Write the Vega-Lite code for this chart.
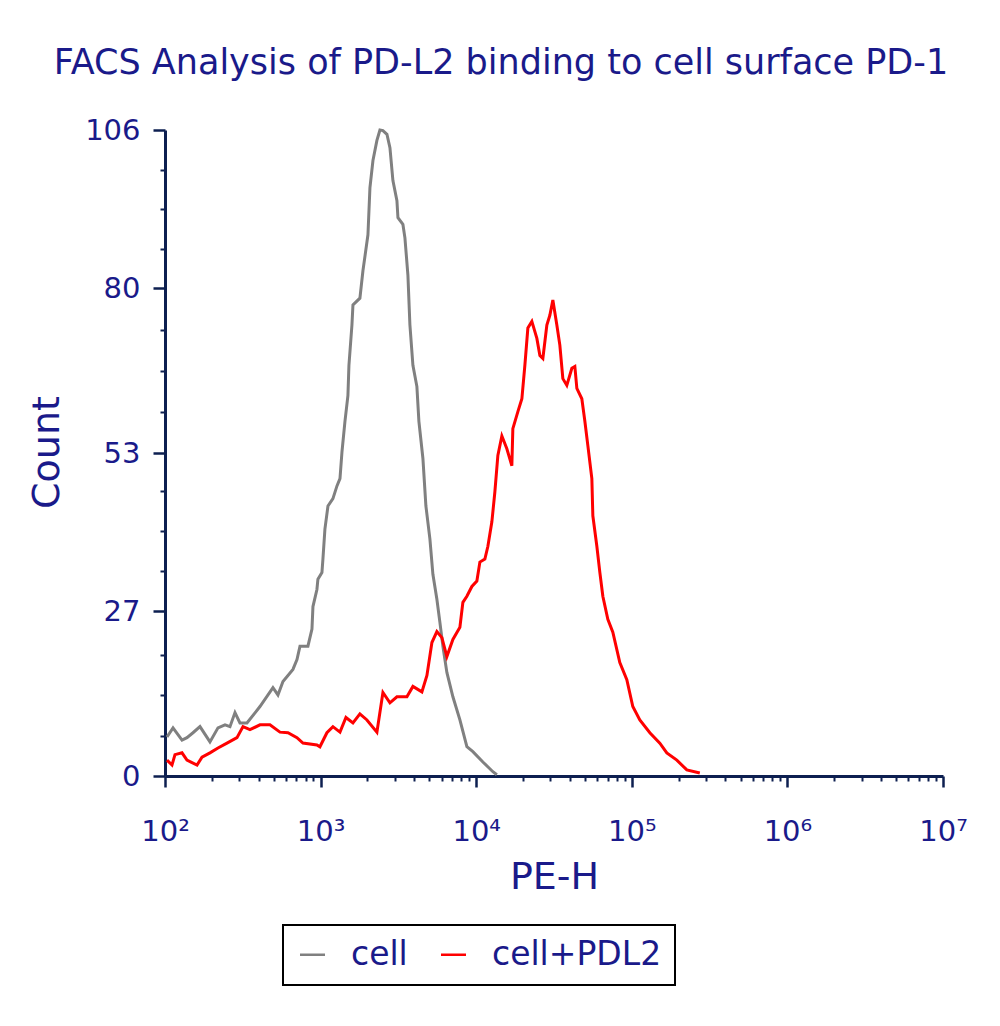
{
  "$schema": "https://vega.github.io/schema/vega-lite/v6.json",
  "width": 778,
  "height": 646,
  "autosize": {"type": "none"},
  "padding": {"left": 165, "top": 130, "right": 57, "bottom": 250},
  "background": "white",
  "title": {
    "text": "FACS Analysis of PD-L2 binding to cell surface PD-1",
    "font": "DejaVu Sans",
    "fontSize": 35,
    "fontWeight": "normal",
    "color": "#1a1a8a",
    "anchor": "middle",
    "frame": "group",
    "dx": -53,
    "baseline": "alphabetic",
    "offset": 7
  },
  "data": {
    "values": [
      {"sample": "cell", "PE_H": 103, "Count": 6.4},
      {"sample": "cell", "PE_H": 112.6, "Count": 7.9},
      {"sample": "cell", "PE_H": 128.6, "Count": 5.9},
      {"sample": "cell", "PE_H": 138.4, "Count": 6.3},
      {"sample": "cell", "PE_H": 151.3, "Count": 7.1},
      {"sample": "cell", "PE_H": 167.8, "Count": 8.1},
      {"sample": "cell", "PE_H": 194.5, "Count": 5.6},
      {"sample": "cell", "PE_H": 219, "Count": 7.9},
      {"sample": "cell", "PE_H": 243, "Count": 8.4},
      {"sample": "cell", "PE_H": 261.6, "Count": 8.1},
      {"sample": "cell", "PE_H": 281.7, "Count": 10.4},
      {"sample": "cell", "PE_H": 303.2, "Count": 8.7},
      {"sample": "cell", "PE_H": 336.3, "Count": 8.7},
      {"sample": "cell", "PE_H": 407.7, "Count": 11.4},
      {"sample": "cell", "PE_H": 494, "Count": 14.5},
      {"sample": "cell", "PE_H": 532, "Count": 13.3},
      {"sample": "cell", "PE_H": 573, "Count": 15.5},
      {"sample": "cell", "PE_H": 664, "Count": 17.5},
      {"sample": "cell", "PE_H": 705, "Count": 19.1},
      {"sample": "cell", "PE_H": 737, "Count": 21.3},
      {"sample": "cell", "PE_H": 829, "Count": 21.3},
      {"sample": "cell", "PE_H": 880, "Count": 24.1},
      {"sample": "cell", "PE_H": 893, "Count": 27.8},
      {"sample": "cell", "PE_H": 947, "Count": 30.6},
      {"sample": "cell", "PE_H": 961, "Count": 32.3},
      {"sample": "cell", "PE_H": 1020, "Count": 33.4},
      {"sample": "cell", "PE_H": 1035, "Count": 35.6},
      {"sample": "cell", "PE_H": 1066, "Count": 40.5},
      {"sample": "cell", "PE_H": 1115, "Count": 44.3},
      {"sample": "cell", "PE_H": 1200, "Count": 45.5},
      {"sample": "cell", "PE_H": 1274, "Count": 47.6},
      {"sample": "cell", "PE_H": 1332, "Count": 48.8},
      {"sample": "cell", "PE_H": 1372, "Count": 53.2},
      {"sample": "cell", "PE_H": 1434, "Count": 58.2},
      {"sample": "cell", "PE_H": 1498, "Count": 62.4},
      {"sample": "cell", "PE_H": 1521, "Count": 67.4},
      {"sample": "cell", "PE_H": 1590, "Count": 74.0},
      {"sample": "cell", "PE_H": 1614, "Count": 77.3},
      {"sample": "cell", "PE_H": 1789, "Count": 78.4},
      {"sample": "cell", "PE_H": 1871, "Count": 82.9},
      {"sample": "cell", "PE_H": 2015, "Count": 88.8},
      {"sample": "cell", "PE_H": 2075, "Count": 96.5},
      {"sample": "cell", "PE_H": 2170, "Count": 101.0},
      {"sample": "cell", "PE_H": 2301, "Count": 104.3},
      {"sample": "cell", "PE_H": 2406, "Count": 106},
      {"sample": "cell", "PE_H": 2515, "Count": 105.9},
      {"sample": "cell", "PE_H": 2669, "Count": 105.3},
      {"sample": "cell", "PE_H": 2790, "Count": 103.1},
      {"sample": "cell", "PE_H": 2916, "Count": 97.7},
      {"sample": "cell", "PE_H": 3094, "Count": 94.4},
      {"sample": "cell", "PE_H": 3141, "Count": 91.6},
      {"sample": "cell", "PE_H": 3381, "Count": 90.5},
      {"sample": "cell", "PE_H": 3483, "Count": 88.3},
      {"sample": "cell", "PE_H": 3640, "Count": 82.2},
      {"sample": "cell", "PE_H": 3750, "Count": 74.0},
      {"sample": "cell", "PE_H": 3920, "Count": 67.4},
      {"sample": "cell", "PE_H": 4158, "Count": 63.9},
      {"sample": "cell", "PE_H": 4283, "Count": 58.2},
      {"sample": "cell", "PE_H": 4545, "Count": 52.1},
      {"sample": "cell", "PE_H": 4751, "Count": 44.3},
      {"sample": "cell", "PE_H": 5040, "Count": 38.9},
      {"sample": "cell", "PE_H": 5269, "Count": 33.1},
      {"sample": "cell", "PE_H": 5589, "Count": 29.0},
      {"sample": "cell", "PE_H": 5844, "Count": 25.2},
      {"sample": "cell", "PE_H": 6109, "Count": 21.3},
      {"sample": "cell", "PE_H": 6479, "Count": 17.0},
      {"sample": "cell", "PE_H": 7083, "Count": 13.0},
      {"sample": "cell", "PE_H": 7857, "Count": 9.2},
      {"sample": "cell", "PE_H": 8712, "Count": 4.8},
      {"sample": "cell", "PE_H": 9521, "Count": 4.0},
      {"sample": "cell", "PE_H": 11040, "Count": 2.3},
      {"sample": "cell", "PE_H": 12800, "Count": 0.7},
      {"sample": "cell", "PE_H": 13580, "Count": 0.2},
      {"sample": "cell+PDL2", "PE_H": 103, "Count": 2.6},
      {"sample": "cell+PDL2", "PE_H": 110.9, "Count": 1.8},
      {"sample": "cell+PDL2", "PE_H": 115.9, "Count": 3.5},
      {"sample": "cell+PDL2", "PE_H": 128.6, "Count": 3.8},
      {"sample": "cell+PDL2", "PE_H": 138.4, "Count": 2.6},
      {"sample": "cell+PDL2", "PE_H": 160.6, "Count": 1.8},
      {"sample": "cell+PDL2", "PE_H": 172.9, "Count": 3.1},
      {"sample": "cell+PDL2", "PE_H": 194.5, "Count": 3.8},
      {"sample": "cell+PDL2", "PE_H": 219, "Count": 4.6},
      {"sample": "cell+PDL2", "PE_H": 250.2, "Count": 5.4},
      {"sample": "cell+PDL2", "PE_H": 290.1, "Count": 6.3},
      {"sample": "cell+PDL2", "PE_H": 317.1, "Count": 8.1},
      {"sample": "cell+PDL2", "PE_H": 351.6, "Count": 7.6},
      {"sample": "cell+PDL2", "PE_H": 407.7, "Count": 8.4},
      {"sample": "cell+PDL2", "PE_H": 472.6, "Count": 8.4},
      {"sample": "cell+PDL2", "PE_H": 548.1, "Count": 7.2},
      {"sample": "cell+PDL2", "PE_H": 617, "Count": 7.1},
      {"sample": "cell+PDL2", "PE_H": 705, "Count": 6.3},
      {"sample": "cell+PDL2", "PE_H": 770.2, "Count": 5.4},
      {"sample": "cell+PDL2", "PE_H": 947, "Count": 5.1},
      {"sample": "cell+PDL2", "PE_H": 990, "Count": 4.8},
      {"sample": "cell+PDL2", "PE_H": 1098, "Count": 7.1},
      {"sample": "cell+PDL2", "PE_H": 1200, "Count": 8.1},
      {"sample": "cell+PDL2", "PE_H": 1332, "Count": 7.2},
      {"sample": "cell+PDL2", "PE_H": 1455, "Count": 9.6},
      {"sample": "cell+PDL2", "PE_H": 1614, "Count": 8.7},
      {"sample": "cell+PDL2", "PE_H": 1789, "Count": 10.2},
      {"sample": "cell+PDL2", "PE_H": 1985, "Count": 9.2},
      {"sample": "cell+PDL2", "PE_H": 2301, "Count": 7.2},
      {"sample": "cell+PDL2", "PE_H": 2515, "Count": 13.7},
      {"sample": "cell+PDL2", "PE_H": 2790, "Count": 12.0},
      {"sample": "cell+PDL2", "PE_H": 3094, "Count": 13.0},
      {"sample": "cell+PDL2", "PE_H": 3587, "Count": 13.0},
      {"sample": "cell+PDL2", "PE_H": 3920, "Count": 14.7},
      {"sample": "cell+PDL2", "PE_H": 4477, "Count": 13.8},
      {"sample": "cell+PDL2", "PE_H": 4823, "Count": 16.5},
      {"sample": "cell+PDL2", "PE_H": 5192, "Count": 21.9},
      {"sample": "cell+PDL2", "PE_H": 5589, "Count": 23.7},
      {"sample": "cell+PDL2", "PE_H": 6019, "Count": 22.7},
      {"sample": "cell+PDL2", "PE_H": 6479, "Count": 19.6},
      {"sample": "cell+PDL2", "PE_H": 7083, "Count": 22.4},
      {"sample": "cell+PDL2", "PE_H": 7857, "Count": 24.4},
      {"sample": "cell+PDL2", "PE_H": 8212, "Count": 28.5},
      {"sample": "cell+PDL2", "PE_H": 8712, "Count": 29.5},
      {"sample": "cell+PDL2", "PE_H": 9382, "Count": 31.1},
      {"sample": "cell+PDL2", "PE_H": 10100, "Count": 32.0},
      {"sample": "cell+PDL2", "PE_H": 10560, "Count": 35.1},
      {"sample": "cell+PDL2", "PE_H": 11370, "Count": 35.6},
      {"sample": "cell+PDL2", "PE_H": 11890, "Count": 37.7},
      {"sample": "cell+PDL2", "PE_H": 12610, "Count": 41.7},
      {"sample": "cell+PDL2", "PE_H": 13180, "Count": 46.6},
      {"sample": "cell+PDL2", "PE_H": 13780, "Count": 52.6},
      {"sample": "cell+PDL2", "PE_H": 14620, "Count": 55.8},
      {"sample": "cell+PDL2", "PE_H": 15740, "Count": 53.7},
      {"sample": "cell+PDL2", "PE_H": 16950, "Count": 50.9},
      {"sample": "cell+PDL2", "PE_H": 17200, "Count": 57.0},
      {"sample": "cell+PDL2", "PE_H": 18530, "Count": 59.8},
      {"sample": "cell+PDL2", "PE_H": 19660, "Count": 61.9},
      {"sample": "cell+PDL2", "PE_H": 20550, "Count": 67.4},
      {"sample": "cell+PDL2", "PE_H": 21480, "Count": 73.5},
      {"sample": "cell+PDL2", "PE_H": 22790, "Count": 74.6},
      {"sample": "cell+PDL2", "PE_H": 24540, "Count": 71.8},
      {"sample": "cell+PDL2", "PE_H": 25660, "Count": 69.0},
      {"sample": "cell+PDL2", "PE_H": 26820, "Count": 68.5},
      {"sample": "cell+PDL2", "PE_H": 28450, "Count": 74.0},
      {"sample": "cell+PDL2", "PE_H": 29740, "Count": 75.6},
      {"sample": "cell+PDL2", "PE_H": 31090, "Count": 78.1},
      {"sample": "cell+PDL2", "PE_H": 32980, "Count": 74.0},
      {"sample": "cell+PDL2", "PE_H": 34480, "Count": 70.7},
      {"sample": "cell+PDL2", "PE_H": 36050, "Count": 65.2},
      {"sample": "cell+PDL2", "PE_H": 38230, "Count": 64.1},
      {"sample": "cell+PDL2", "PE_H": 41180, "Count": 66.9},
      {"sample": "cell+PDL2", "PE_H": 43050, "Count": 67.2},
      {"sample": "cell+PDL2", "PE_H": 44350, "Count": 63.6},
      {"sample": "cell+PDL2", "PE_H": 47740, "Count": 61.9},
      {"sample": "cell+PDL2", "PE_H": 49930, "Count": 58.2},
      {"sample": "cell+PDL2", "PE_H": 52190, "Count": 54.2},
      {"sample": "cell+PDL2", "PE_H": 55370, "Count": 48.8},
      {"sample": "cell+PDL2", "PE_H": 56190, "Count": 42.7},
      {"sample": "cell+PDL2", "PE_H": 59620, "Count": 37.7},
      {"sample": "cell+PDL2", "PE_H": 62320, "Count": 33.4},
      {"sample": "cell+PDL2", "PE_H": 65150, "Count": 29.5},
      {"sample": "cell+PDL2", "PE_H": 70150, "Count": 25.7},
      {"sample": "cell+PDL2", "PE_H": 75530, "Count": 23.6},
      {"sample": "cell+PDL2", "PE_H": 83750, "Count": 18.6},
      {"sample": "cell+PDL2", "PE_H": 92900, "Count": 15.8},
      {"sample": "cell+PDL2", "PE_H": 101500, "Count": 11.4},
      {"sample": "cell+PDL2", "PE_H": 112600, "Count": 9.2},
      {"sample": "cell+PDL2", "PE_H": 130600, "Count": 7.1},
      {"sample": "cell+PDL2", "PE_H": 151400, "Count": 5.4},
      {"sample": "cell+PDL2", "PE_H": 167900, "Count": 3.8},
      {"sample": "cell+PDL2", "PE_H": 194700, "Count": 2.6},
      {"sample": "cell+PDL2", "PE_H": 225700, "Count": 1.0},
      {"sample": "cell+PDL2", "PE_H": 273500, "Count": 0.5}
    ]
  },
  "layer": [
    {
      "mark": {"type": "line", "opacity": 0},
      "encoding": {
        "x": {
          "field": "PE_H",
          "type": "quantitative",
          "scale": {"type": "log", "domain": [100, 10000000]},
          "axis": {
            "orient": "bottom",
            "values": [200, 300, 400, 500, 600, 700, 800, 900, 2000, 3000, 4000, 5000, 6000, 7000, 8000, 9000, 20000, 30000, 40000, 50000, 60000, 70000, 80000, 90000, 200000, 300000, 400000, 500000, 600000, 700000, 800000, 900000, 2000000, 3000000, 4000000, 5000000, 6000000, 7000000, 8000000, 9000000],
            "labels": false,
            "domain": false,
            "grid": false,
            "title": null,
            "tickSize": 5,
            "tickWidth": 2,
            "tickColor": "#0d1f50"
          }
        },
        "y": {
          "field": "Count",
          "type": "quantitative",
          "scale": {"domain": [0, 106], "nice": false, "zero": true},
          "axis": {
            "orient": "left",
            "values": [6.6, 13.3, 19.9, 33.6, 40.2, 46.8, 59.7, 66.5, 73.2, 86.5, 93, 99.5],
            "labels": false,
            "domain": false,
            "grid": false,
            "title": null,
            "tickSize": 5,
            "tickWidth": 2,
            "tickColor": "#0d1f50"
          }
        },
        "detail": {"field": "sample"}
      }
    },
    {
      "mark": {"type": "line", "strokeWidth": 3},
      "encoding": {
        "x": {
          "field": "PE_H",
          "type": "quantitative",
          "scale": {"type": "log", "domain": [100, 10000000]},
          "axis": {
            "orient": "bottom",
            "values": [100, 1000, 10000, 100000, 1000000, 10000000],
            "labelExpr": "datum.value == 100 ? '10²' : datum.value == 1000 ? '10³' : datum.value == 10000 ? '10⁴' : datum.value == 100000 ? '10⁵' : datum.value == 1000000 ? '10⁶' : '10⁷'",
            "grid": false,
            "domainColor": "#0d1f50",
            "domainWidth": 3,
            "tickColor": "#0d1f50",
            "tickWidth": 2.5,
            "tickSize": 11,
            "labelFont": "DejaVu Sans",
            "labelFontSize": 29,
            "labelColor": "#1a1a8a",
            "labelPadding": 30,
            "labelFlush": false,
            "labelOverlap": false,
            "title": "PE-H",
            "titleFont": "DejaVu Sans",
            "titleFontSize": 38,
            "titleFontWeight": "normal",
            "titleColor": "#1a1a8a",
            "titleBaseline": "alphabetic",
            "titleY": 112
          }
        },
        "y": {
          "field": "Count",
          "type": "quantitative",
          "scale": {"domain": [0, 106], "nice": false, "zero": true},
          "axis": {
            "orient": "left",
            "values": [0, 27, 53, 80, 106],
            "grid": false,
            "domainColor": "#0d1f50",
            "domainWidth": 3,
            "tickColor": "#0d1f50",
            "tickWidth": 2.5,
            "tickSize": 12,
            "labelFont": "DejaVu Sans",
            "labelFontSize": 29,
            "labelColor": "#1a1a8a",
            "labelPadding": 13,
            "labelFlush": false,
            "labelOverlap": false,
            "title": "Count",
            "titleFont": "DejaVu Sans",
            "titleFontSize": 38,
            "titleFontWeight": "normal",
            "titleColor": "#1a1a8a",
            "titleAngle": 270,
            "titleAlign": "center",
            "titleBaseline": "middle",
            "titleX": -118,
            "titleY": 322
          }
        },
        "color": {
          "field": "sample",
          "type": "nominal",
          "scale": {"domain": ["cell", "cell+PDL2"], "range": ["#808080", "#ff0000"]},
          "legend": {
            "orient": "none",
            "legendX": 118,
            "legendY": 795,
            "direction": "horizontal",
            "title": null,
            "strokeColor": "#000000",
            "padding": 13,
            "symbolType": "stroke",
            "symbolSize": 625,
            "symbolStrokeWidth": 2.5,
            "labelFont": "DejaVu Sans",
            "labelFontSize": 33,
            "labelColor": "#1a1a8a",
            "labelLimit": 400,
            "labelOffset": 22,
            "columnPadding": 28
          }
        }
      }
    }
  ],
  "resolve": {"axis": {"x": "independent", "y": "independent"}},
  "config": {
    "view": {"stroke": null},
    "legend": {"strokeWidth": 2}
  }
}
